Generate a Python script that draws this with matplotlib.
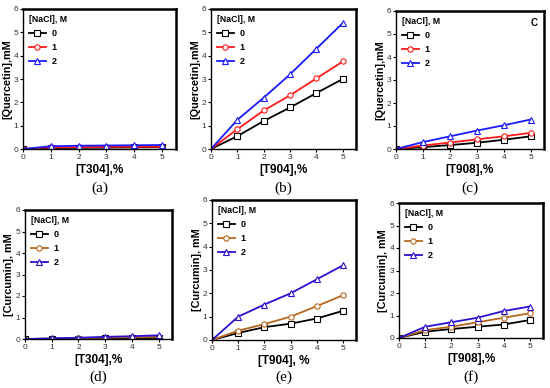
import matplotlib
matplotlib.use("Agg")
import matplotlib.pyplot as plt

W, H = 550, 388

x = [0, 1, 2, 3, 4, 5]
nacl = ["0", "1", "2"]

# quercetin, top row
q_t304 = [[0, 0.04, 0.05, 0.06, 0.07, 0.08],
          [0, 0.07, 0.08, 0.09, 0.10, 0.10],
          [0, 0.12, 0.14, 0.15, 0.16, 0.17]]
q_t904 = [[0, 0.55, 1.2, 1.78, 2.4, 3.0],
          [0, 0.85, 1.65, 2.3, 3.03, 3.75],
          [0, 1.25, 2.2, 3.2, 4.3, 5.4]]
q_t908 = [[0, 0.08, 0.17, 0.27, 0.40, 0.55],
          [0, 0.15, 0.28, 0.42, 0.55, 0.70],
          [0, 0.30, 0.55, 0.80, 1.03, 1.28]]
# curcumin, bottom row
c_t304 = [[0, 0.01, 0.02, 0.03, 0.04, 0.05],
          [0, 0.02, 0.04, 0.06, 0.08, 0.10],
          [0, 0.03, 0.06, 0.10, 0.13, 0.17]]
c_t904 = [[0, 0.30, 0.55, 0.70, 0.92, 1.25],
          [0, 0.40, 0.68, 1.00, 1.45, 1.92],
          [0, 1.00, 1.52, 2.00, 2.60, 3.20]]
c_t908 = [[0, 0.28, 0.40, 0.50, 0.60, 0.80],
          [0, 0.35, 0.50, 0.70, 0.90, 1.10],
          [0, 0.50, 0.70, 0.90, 1.20, 1.40]]

top_colors = ["black", "#ff1a1a", "#1a1aff"]
bot_colors = ["black", "#b8661e", "#2a10d0"]
markers = ["s", "o", "^"]

panels = [
    # data, box (left, top, right, bottom) in px, ylabel, xlabel, caption, colors
    (q_t304, (23, 9, 176, 149), "[Quercetin],mM", "[T304],%", "(a)", top_colors),
    (q_t904, (211, 9, 356, 149), "[Quercetin],mM", "[T904],%", "(b)", top_colors),
    (q_t908, (396, 11, 544, 149), "[Quercetin],mM", "[T908],%", "(c)", top_colors),
    (c_t304, (25, 210, 172, 339), "[Curcumin], mM", "[T304],%", "(d)", bot_colors),
    (c_t904, (212, 200, 356, 340), "[Curcumin], mM", "[T904], %", "(e)", bot_colors),
    (c_t908, (399, 203, 543, 338), "[Curcumin], mM", "[T908],%", "(f)", bot_colors),
]

plt.rcParams["font.family"] = "Liberation Sans"

fig = plt.figure(figsize=(W / 100, H / 100), dpi=100)

for i, (data, box, ylab, xlab, cap, colors) in enumerate(panels):
    l, t, r, b = box
    ax = fig.add_axes([l / W, 1 - b / H, (r - l) / W, (b - t) / H])
    for k in range(3):
        ax.plot(x, data[k], color=colors[k], marker=markers[k], markersize=3.8,
                markerfacecolor="white", markeredgewidth=0.8, linewidth=1.3,
                label=nacl[k])
    ax.set_xlim(0, 5.5)
    ax.set_ylim(0, 6)
    ax.set_xticks(x)
    ax.set_yticks([0, 1, 2, 3, 4, 5, 6])
    ax.tick_params(labelsize=6, length=2.5, width=0.8, pad=1, colors="black",
                   labelcolor="#333333")
    for side in ["top", "right"]:
        ax.spines[side].set_linewidth(1.8)
    for side in ["left", "bottom"]:
        ax.spines[side].set_linewidth(1.0)
    ax.set_ylabel(ylab, fontsize=7.8, fontweight="bold", va="center")
    ax.yaxis.set_label_coords(-15.5 / (r - l), 0.5)
    ax.set_xlabel(xlab, fontsize=8.5, fontweight="bold", labelpad=2)
    leg = ax.legend(title="[NaCl], M", loc="upper left", frameon=False,
                    title_fontproperties={"size": 6.3, "weight": "bold"},
                    handlelength=1.8, handletextpad=0.7, labelspacing=0.55,
                    borderaxespad=0.3, prop={"size": 6.5, "weight": "bold"})
    leg._legend_box.align = "left"
    if i == 2:
        ax.text(0.96, 0.95, "C", transform=ax.transAxes, ha="right", va="top",
                fontsize=7, fontweight="bold")
    cx = (l + r) / 2 / W
    cy = 1 - (188 if i < 3 else 377) / H
    fig.text(cx, cy, cap, ha="center", va="center", fontsize=11,
             family="Liberation Serif")

fig.savefig("out.png", dpi=100)
